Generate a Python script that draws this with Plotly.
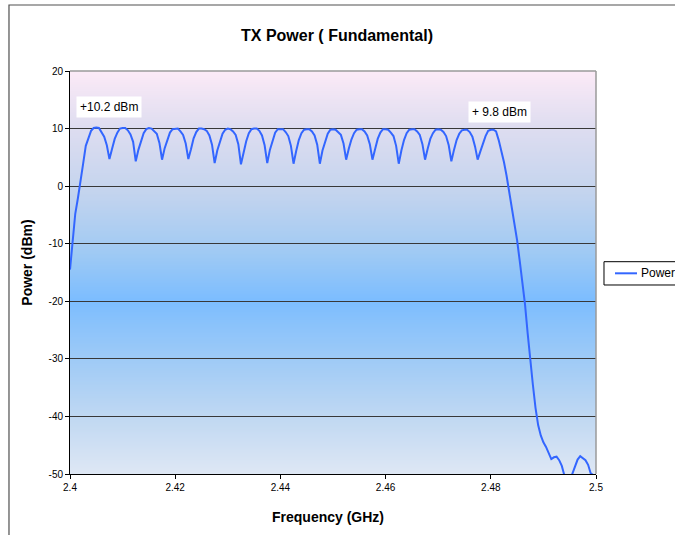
import base64
import struct
import zlib

import plotly.graph_objects as go

# ---------------- data ----------------
FREQ_START = 2.4      # GHz, first sample of the sweep
FREQ_STEP = 0.0005    # GHz, sweep step

rise_and_first_peak = [-14.5, -10.0, -4.8, -2.1, 0.6, 3.9, 7.0, 8.3, 9.6, 10.1,
                       10.2, 10.1, 9.4, 8.6, 7.1]
ripple_periods = [
    [4.7, 6.5, 8.2, 9.3, 10.0, 10.1, 10.1, 9.7, 9.0, 7.7],
    [4.3, 6.3, 8.0, 9.2, 9.9, 10.1, 10.0, 9.6, 9.1, 7.5],
    [4.6, 6.6, 8.1, 9.3, 9.9, 10.0, 10.0, 9.5, 8.9, 7.4],
    [4.7, 6.4, 8.3, 9.4, 10.0, 10.0, 9.9, 9.6, 8.8, 7.2],
    [4.0, 6.2, 7.9, 9.1, 9.8, 10.0, 9.9, 9.5, 8.9, 7.3],
    [3.8, 6.0, 7.8, 9.2, 9.9, 10.0, 10.0, 9.6, 8.8, 7.1],
    [4.0, 6.3, 8.0, 9.3, 9.9, 9.9, 9.9, 9.4, 8.7, 7.0],
    [3.9, 6.1, 8.0, 9.2, 9.8, 9.9, 9.9, 9.5, 8.8, 7.2],
    [3.9, 6.2, 7.9, 9.1, 9.8, 9.9, 9.8, 9.4, 8.9, 7.4],
    [4.6, 6.5, 8.1, 9.2, 9.8, 9.9, 9.9, 9.5, 8.8, 7.3],
    [4.6, 6.4, 8.2, 9.3, 9.9, 9.9, 9.8, 9.3, 8.7, 7.0],
    [3.9, 6.2, 8.0, 9.2, 9.8, 9.9, 9.9, 9.5, 8.9, 7.3],
    [4.6, 6.5, 8.2, 9.2, 9.8, 9.9, 9.8, 9.4, 8.7, 7.1],
    [4.3, 6.3, 8.0, 9.1, 9.7, 9.8, 9.8, 9.4, 8.6, 6.9],
]
last_peak_and_rolloff = [
    4.6, 6.0, 7.3, 8.7, 9.6, 9.8, 9.8, 9.5, 8.0, 6.3, 4.2,
    1.8, -0.9, -3.5, -6.3, -9.4, -13.0, -16.5, -20.5, -25.5, -30.5,
    -34.5, -38.5, -41.5, -43.3, -44.5, -45.3, -46.5, -47.4, -47.1, -47.0,
    -47.6, -48.6, -50.3, -51.5, -51.2, -49.9, -48.6, -47.5, -46.9, -47.3,
    -47.6, -48.4, -49.9, -50.2, -50.4,
]

power_dbm = rise_and_first_peak + [v for p in ripple_periods for v in p] + last_peak_and_rolloff
freq_ghz = [round(FREQ_START + i * FREQ_STEP, 4) for i in range(len(power_dbm))]

X_TICKS = [2.4, 2.42, 2.44, 2.46, 2.48, 2.5]
X_TICK_LABELS = ["2.4", "2.42", "2.44", "2.46", "2.48", "2.5"]
Y_TICKS = [20, 10, 0, -10, -20, -30, -40, -50]
Y_TICK_LABELS = ["20", "10", "0", "-10", "-20", "-30", "-40", "-50"]

TITLE = "TX Power ( Fundamental)"
X_TITLE = "Frequency (GHz)"
Y_TITLE = "Power (dBm)"
SERIES_NAME = "Power"
LABEL_FIRST = "+10.2 dBm"
LABEL_LAST = "+ 9.8 dBm"

LINE_COLOR = "#3366FF"
FONT = "Liberation Sans, Arial, Helvetica, sans-serif"


# ---------------- background gradient as an inline PNG ----------------
def gradient_png(stops, height=400, width=2):
    """stops: list of (fraction_from_top, (r,g,b))"""
    rows = []
    for j in range(height):
        t = j / (height - 1)
        for k in range(len(stops) - 1):
            f0, c0 = stops[k]
            f1, c1 = stops[k + 1]
            if f0 <= t <= f1:
                u = (t - f0) / (f1 - f0) if f1 > f0 else 0
                rgb = tuple(int(round(c0[i] + (c1[i] - c0[i]) * u)) for i in range(3))
                break
        rows.append(b"\x00" + bytes(rgb) * width)
    raw = b"".join(rows)

    def chunk(tag, data):
        return (struct.pack(">I", len(data)) + tag + data
                + struct.pack(">I", zlib.crc32(tag + data) & 0xFFFFFFFF))

    png = (b"\x89PNG\r\n\x1a\n"
           + chunk(b"IHDR", struct.pack(">IIBBBBB", width, height, 8, 2, 0, 0, 0))
           + chunk(b"IDAT", zlib.compress(raw, 9))
           + chunk(b"IEND", b""))
    return "data:image/png;base64," + base64.b64encode(png).decode()


bg_src = gradient_png([
    (0.00, (252, 234, 247)),
    (0.14, (222, 221, 240)),
    (0.30, (196, 212, 238)),
    (0.45, (160, 202, 244)),
    (0.57, (124, 189, 255)),
    (0.72, (160, 203, 246)),
    (0.86, (192, 216, 242)),
    (1.00, (222, 231, 244)),
])

# ---------------- figure ----------------
fig = go.Figure()
fig.add_trace(go.Scatter(
    x=freq_ghz, y=power_dbm, mode="lines", name=SERIES_NAME,
    line=dict(color=LINE_COLOR, width=2), showlegend=False,
))

fig.add_layout_image(dict(
    source=bg_src, xref="x", yref="y", x=2.4, y=20, sizex=0.1, sizey=70,
    sizing="stretch", layer="below", xanchor="left", yanchor="top",
))

fig.update_layout(
    width=675, height=535,
    margin=dict(l=70, r=79, t=71, b=61, autoexpand=False),
    paper_bgcolor="white", plot_bgcolor="white",
    font=dict(family=FONT, size=10, color="black"),
    showlegend=False,
)

fig.update_xaxes(
    range=[2.4, 2.5], tickvals=X_TICKS, ticktext=X_TICK_LABELS,
    showgrid=False, zeroline=False,
    showline=True, linecolor="black", linewidth=1,
    ticks="outside", ticklen=4, tickcolor="black",
    tickfont=dict(family=FONT, size=10, color="black"),
)
fig.update_yaxes(
    range=[-50, 20], tickvals=Y_TICKS, ticktext=Y_TICK_LABELS,
    showgrid=True, gridcolor="#383838", gridwidth=1, zeroline=False,
    showline=True, linecolor="black", linewidth=1,
    ticks="outside", ticklen=4, tickcolor="black",
    tickfont=dict(family=FONT, size=10, color="black"),
)

# plot-area top and right borders (grey) and the outer chart frame
fig.add_shape(type="line", xref="paper", yref="paper", x0=0, x1=1, y0=1, y1=1,
              line=dict(color="#9a9a9a", width=1.5), layer="above")
fig.add_shape(type="line", xref="paper", yref="paper", x0=1, x1=1, y0=0, y1=1,
              line=dict(color="#9a9a9a", width=1.5), layer="above")
fig.add_shape(type="rect", xref="paper", yref="paper",
              x0=-0.116, x1=1.25, y0=-0.25, y1=1.1638,
              line=dict(color="#505050", width=1.2), fillcolor="rgba(0,0,0,0)",
              layer="above")

# legend box (cut by the right edge like in the reference)
fig.add_shape(type="rect", xref="paper", yref="paper",
              x0=1.0152, x1=1.25, y0=0.469, y1=0.5268,
              line=dict(color="black", width=1), fillcolor="white", layer="above")
fig.add_shape(type="line", xref="paper", yref="paper",
              x0=1.0361, x1=1.078, y0=0.498, y1=0.498,
              line=dict(color=LINE_COLOR, width=2), layer="above")
fig.add_annotation(text=SERIES_NAME, xref="paper", yref="paper",
                   x=1.0817, y=0.498, xanchor="left", yanchor="middle",
                   showarrow=False, font=dict(family=FONT, size=12, color="black"))

# texts
fig.add_annotation(text=f"<b>{TITLE}</b>", xref="paper", yref="paper",
                   x=0.507, y=1.089, xanchor="center", yanchor="middle",
                   showarrow=False, font=dict(family=FONT, size=16, color="black"))
fig.add_annotation(text=f"<b>{X_TITLE}</b>", xref="paper", yref="paper",
                   x=0.4905, y=-0.106, xanchor="center", yanchor="middle",
                   showarrow=False, font=dict(family=FONT, size=14, color="black"))
fig.add_annotation(text=f"<b>{Y_TITLE}</b>", xref="paper", yref="paper",
                   x=-0.0823, y=0.5236, xanchor="center", yanchor="middle",
                   textangle=-90, showarrow=False,
                   font=dict(family=FONT, size=14, color="black"))
fig.add_annotation(text=LABEL_FIRST, xref="x", yref="y", x=2.4075, y=13.7,
                   xanchor="center", yanchor="middle",
                   showarrow=False, bgcolor="white", borderpad=3,
                   font=dict(family=FONT, size=12, color="black"))
fig.add_annotation(text=LABEL_LAST, xref="x", yref="y", x=2.48166, y=12.9,
                   xanchor="center", yanchor="middle",
                   showarrow=False, bgcolor="white", borderpad=3,
                   font=dict(family=FONT, size=12, color="black"))

# remove the browser's default 8px page margin so the figure fills the window
fig.write_html(
    "out.html",
    config={"displayModeBar": False},
    post_script="document.body.style.margin='0';document.body.style.overflow='hidden';",
)
